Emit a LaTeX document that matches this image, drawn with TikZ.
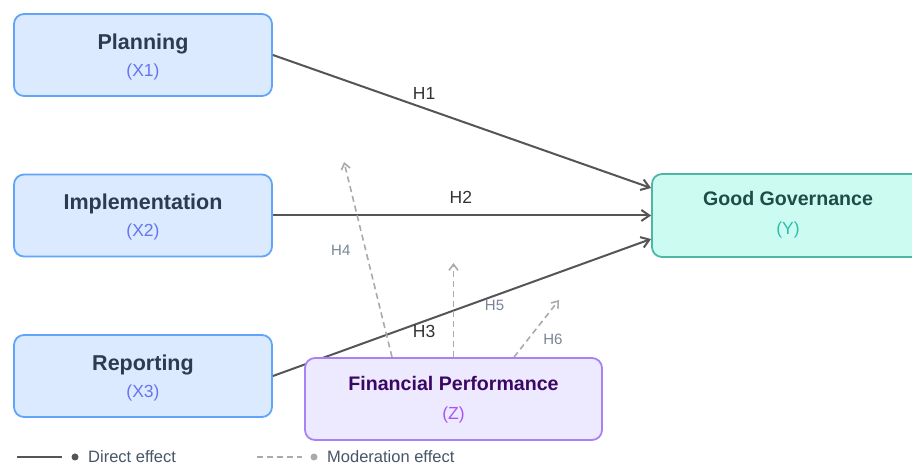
\documentclass[tikz,border=0pt]{standalone}
\usepackage{fontspec}
\setmainfont{Liberation Sans}
\usetikzlibrary{arrows.meta}

\begin{document}
\begin{tikzpicture}[x=1pt,y=1pt,line width=0.4pt]
\definecolor{xfill}{RGB}{219,234,254}
\definecolor{xdraw}{RGB}{96,165,250}
\definecolor{xtext}{RGB}{45,58,82}
\definecolor{xsubc}{RGB}{99,118,241}
\definecolor{yfill}{RGB}{204,251,241}
\definecolor{ydraw}{RGB}{77,182,165}
\definecolor{ytext}{RGB}{30,76,72}
\definecolor{ysubc}{RGB}{45,190,172}
\definecolor{zfill}{RGB}{237,233,254}
\definecolor{zdraw}{RGB}{167,130,245}
\definecolor{ztext}{RGB}{59,7,100}
\definecolor{zsubc}{RGB}{168,85,247}
\definecolor{dirc}{RGB}{85,85,85}
\definecolor{modc}{RGB}{170,170,170}
\definecolor{hlab}{RGB}{51,51,51}
\definecolor{mlab}{RGB}{120,132,150}
\definecolor{legc}{RGB}{71,85,105}
\providecommand{\fbig}{\fontsize{21.5}{25}\selectfont\bfseries}
\providecommand{\fmid}{\fontsize{19.6}{23}\selectfont\bfseries}
\providecommand{\fsub}{\fontsize{17.5}{21}\selectfont}
\tikzset{box/.style={rounded corners=10pt,line width=1.8pt,inner sep=0pt},xbox/.style={box,draw=xdraw,fill=xfill,minimum width=258pt,minimum height=82pt},ybox/.style={box,draw=ydraw,fill=yfill,minimum width=272pt,minimum height=83pt},zbox/.style={box,draw=zdraw,fill=zfill,minimum width=297pt,minimum height=82pt},ttl/.style={anchor=base,inner sep=0pt},direct/.style={-{Straight Barb[length=8pt,width=11pt]},draw=dirc,line width=2pt},moder/.style={-{Straight Barb[length=6pt,width=9pt]},draw=modc,line width=1.6pt,dash pattern=on 6pt off 4pt},hlabel/.style={inner sep=0pt,font=\fsub,text=hlab},mlabel/.style={inner sep=0pt,font=\fontsize{15}{18}\selectfont,text=mlab},dot/.style={circle,inner sep=0pt,minimum size=7pt},legtext/.style={anchor=west,inner sep=0pt,font=\fontsize{16.5}{19}\selectfont,text=legc}}
\useasboundingbox (0,0) rectangle (912,465);
% independent variables
\node[xbox] (plan) at (143,410) {};
\node[ttl,font=\fbig,text=xtext] (plan-t) at ([yshift=5pt]plan.center) {Planning};
\node[ttl,font=\fsub,text=xsubc] (plan-s) at ([yshift=-22pt]plan.center) {(X1)};
\node[xbox] (impl) at (143,249.5) {};
\node[ttl,font=\fbig,text=xtext] (impl-t) at ([yshift=5.5pt]impl.center) {Implementation};
\node[ttl,font=\fsub,text=xsubc] (impl-s) at ([yshift=-21.5pt]impl.center) {(X2)};
\node[xbox] (rep) at (143,89) {};
\node[ttl,font=\fbig,text=xtext] (rep-t) at ([yshift=5pt]rep.center) {Reporting};
\node[ttl,font=\fsub,text=xsubc] (rep-s) at ([yshift=-22pt]rep.center) {(X3)};
% dependent variable
\node[ybox] (gov) at (788,249.5) {};
\node[ttl,font=\fmid,text=ytext] (gov-t) at ([yshift=9.5pt]gov.center) {Good Governance};
\node[ttl,font=\fsub,text=ysubc] (gov-s) at ([yshift=-19.5pt]gov.center) {(Y)};
% direct paths
\draw[direct] (plan.east) -- ([yshift=27.5pt]gov.west) node[pos=0.4,yshift=15pt,hlabel] (h1) {H1};
\draw[direct] (impl.east) -- (gov.west) node[pos=0.497,yshift=18pt,hlabel] (h2) {H2};
\draw[direct] (rep.east) -- ([yshift=-23.5pt]gov.west) node[pos=0.4,yshift=-10pt,hlabel] (h3) {H3};
% moderator
\node[zbox] (fin) at (453.5,66) {};
\node[ttl,font=\fmid,text=ztext] (fin-t) at ([yshift=8pt]fin.center) {Financial Performance};
\node[ttl,font=\fsub,text=zsubc] (fin-s) at ([yshift=-21pt]fin.center) {(Z)};
\coordinate (m4) at (344,303);
\coordinate (m5) at (453.5,202);
\coordinate (m6) at (559,165);
\draw[moder] ([xshift=-61.5pt]fin.north) -- (m4) node[pos=0.546,xshift=-25pt,mlabel] (h4) {H4};
\draw[moder] (fin.north) -- (m5) node[pos=0.55,xshift=41pt,mlabel] (h5) {H5};
\draw[moder] ([xshift=60.5pt]fin.north) -- (m6) node[pos=0.31,xshift=25pt,mlabel] (h6) {H6};
% legend
\coordinate (ld0) at (17,8);
\coordinate (ld1) at (62,8);
\draw[draw=dirc,line width=1.6pt] (ld0) -- (ld1);
\node[dot,fill=dirc] (ld-dot) at (75,8) {};
\node[legtext] (ld-txt) at (88,8) {Direct effect};
\coordinate (lm0) at (257,8);
\coordinate (lm1) at (302,8);
\draw[draw=modc,line width=1.6pt,dash pattern=on 6pt off 4pt] (lm0) -- (lm1);
\node[dot,fill=modc] (lm-dot) at (314,8) {};
\node[legtext] (lm-txt) at (327,8) {Moderation effect};
\end{tikzpicture}
\end{document}
